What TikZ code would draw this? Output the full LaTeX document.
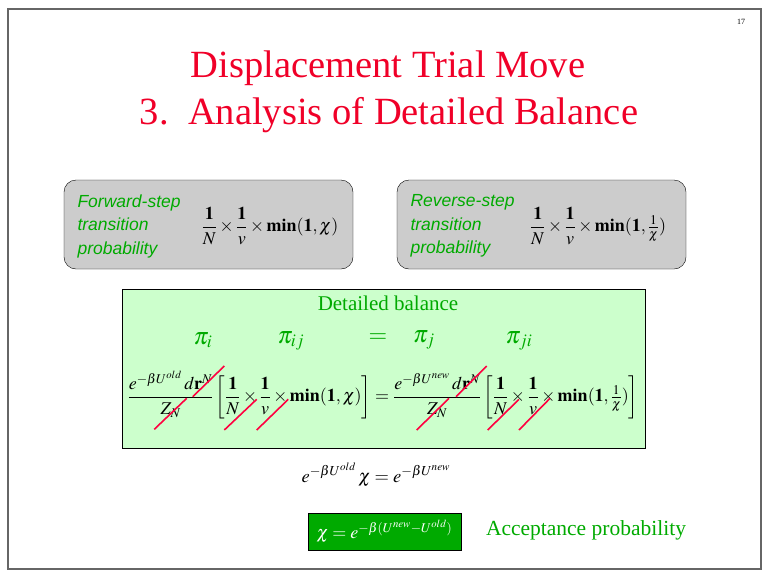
\documentclass[tikz,border=0pt]{standalone}
\usepackage{amsmath}
\usepackage{mathptmx}
\usepackage{fontspec}
\setmainfont{Liberation Serif}
\newfontfamily\handfont{Liberation Sans}
\usepackage{tikz}

\definecolor{titlered}{RGB}{240,0,40}
\definecolor{slidegreen}{RGB}{0,170,0}
\definecolor{lightgreen}{RGB}{204,255,204}
\definecolor{boxgray}{RGB}{204,204,204}
\definecolor{framegray}{RGB}{102,102,102}
\definecolor{slashred}{RGB}{255,0,64}

\begin{document}
\begin{tikzpicture}[x=1pt,y=-1pt,
		probbox/.style={draw, fill=boxgray, rounded corners=12, minimum width=289, minimum height=89},
		steptext/.style={anchor=west, align=left, text=slidegreen, font=\handfont\itshape\fontsize{17.5}{23.5}\selectfont},
		pisym/.style={text=slidegreen, font=\fontsize{24}{28}\selectfont},
		cancel/.style={draw=slashred, line width=1.6}]
		\useasboundingbox (0,0) rectangle (768,576);
		\draw[framegray, line width=2] (7.5,8.5) rectangle (761,569);
		\node[font=\fontsize{8}{9}\selectfont] (pagenum) at (741,22) {17};

		\node[text=titlered, font=\fontsize{38.5}{46}\selectfont] (title1) at (388,68) {Displacement Trial Move};
		\node[text=titlered, font=\fontsize{38.5}{46}\selectfont] (title2) at (389,115) {3.\ \ Analysis of Detailed Balance};

		% transition probabilities
		\node[probbox] (fwdbox) at (208.5,224.5) {};
		\node[steptext] (fwdtext) at (74,226) {Forward-step\\transition\\probability};
		\node[font=\fontsize{18}{22}\selectfont] (fwdeq) at (270,226) {$\displaystyle \frac{\mathbf 1}{N}\times\frac{\mathbf 1}{v}\times\mathbf{min(1,}\,\chi\mathbf{)}$};

		\node[probbox] (revbox) at (541.5,224.5) {};
		\node[steptext] (revtext) at (407,226) {Reverse-step\\transition\\probability};
		\node[font=\fontsize{18}{22}\selectfont] (reveq) at (598,226) {$\displaystyle \frac{\mathbf 1}{N}\times\frac{\mathbf 1}{v}\times\mathbf{min(1,}\,\tfrac{1}{\chi}\mathbf{)}$};

		% detailed balance
		\node[draw, fill=lightgreen, minimum width=523, minimum height=159] (balbox) at (383.5,368.5) {};
		\node[text=slidegreen, font=\fontsize{21}{24}\selectfont] (baltitle) at (388,303) {Detailed balance};
		\node[pisym] (pii) at (203,340) {$\pi_i$};
		\node[pisym] (piij) at (291,341) {$\pi_{ij}$};
		\node[pisym] (pieq) at (378,338) {$=$};
		\node[pisym] (pij) at (424,340) {$\pi_j$};
		\node[pisym] (piji) at (519,341) {$\pi_{ji}$};
		\node[font=\fontsize{18}{22}\selectfont] (baleq) at (383,395) {$\displaystyle \frac{e^{-\beta U^{old}}\,d\mathbf r^N}{Z_N}\left[\frac{\mathbf 1}{N}\times\frac{\mathbf 1}{v}\times\mathbf{min(1,}\,\chi\mathbf{)}\right] = \frac{e^{-\beta U^{new}}\,d\mathbf r^N}{Z_N}\left[\frac{\mathbf 1}{N}\times\frac{\mathbf 1}{v}\times\mathbf{min(1,}\,\tfrac{1}{\chi}\mathbf{)}\right]$};

		% cancelled factors
		\draw[cancel] (192.7,396.7) -- (224.3,366);
		\draw[cancel] (154.3,429.3) -- (186.7,398.3);
		\draw[cancel] (224.3,430) -- (256.7,399.3);
		\draw[cancel] (256.7,430) -- (288.3,399.3);
		\draw[cancel] (456,396.7) -- (486.7,366);
		\draw[cancel] (416.7,430) -- (449,398.3);
		\draw[cancel] (487.7,430) -- (519,399.3);
		\draw[cancel] (519,430) -- (550,398.3);

		% acceptance
		\node[font=\fontsize{18.5}{22}\selectfont] (chieq) at (376,475) {$e^{-\beta U^{old}}\,\chi = e^{-\beta U^{new}}$};
		\node[draw, fill=slidegreen, text=white, minimum width=153, minimum height=37, font=\fontsize{18}{22}\selectfont] (accbox) at (384.5,531.5) {$\chi = e^{-\beta(U^{new}-U^{old})}$};
		\node[text=slidegreen, font=\fontsize{21.5}{24}\selectfont] (acctext) at (586,530) {Acceptance probability};
	\end{tikzpicture}
\end{document}
